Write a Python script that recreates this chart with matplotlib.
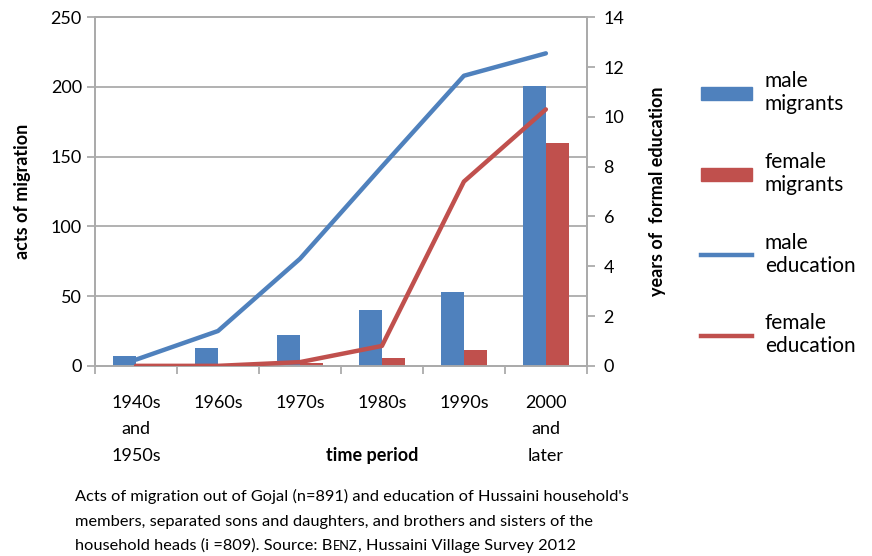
import numpy as np
import matplotlib.pyplot as plt
from matplotlib.patches import Patch
from matplotlib.lines import Line2D

plt.rcParams['font.family'] = ['Lato', 'DejaVu Sans']

periods = ['1940s\nand\n1950s', '1960s', '1970s', '1980s', '1990s', '2000\nand\nlater']
male_migrants = [7, 13, 22, 40, 53, 201]
female_migrants = [0, 0, 2, 5.5, 11.5, 160]
male_edu = [0.25, 1.4, 4.3, 8.0, 11.65, 12.55]
female_edu = [0.0, 0.0, 0.15, 0.8, 7.4, 10.3]

blue = '#4F81BD'
red = '#C0504D'
grey = '#ABABAB'

fig = plt.figure(figsize=(8.72, 5.56), dpi=100)
ax = fig.add_axes([0.109, 0.342, 0.564, 0.627])

x = np.arange(len(periods))
w = 0.28
ax.bar(x - w / 2, male_migrants, w, color=blue, zorder=3)
ax.bar(x + w / 2, female_migrants, w, color=red, zorder=3)

ax.set_xlim(-0.5, len(periods) - 0.5)
ax.set_ylim(0, 250)
ax.set_yticks(range(0, 251, 50))
ax.yaxis.grid(True, color=grey, lw=1.3, zorder=0)
ax.set_xticks(x)
ax.set_xticklabels(periods, fontsize=13, linespacing=1.8, va='top')
ax.set_xticks(np.arange(-0.5, len(periods)), minor=True)
ax.tick_params(axis='x', which='major', length=0, pad=21)
ax.tick_params(axis='x', which='minor', length=6, color=grey, width=1.3)
ax.tick_params(axis='y', labelsize=13, length=6, color=grey, width=1.3)
ax.set_ylabel('acts of migration', fontsize=13, fontweight='bold', labelpad=14)
for s in ax.spines.values():
    s.set_color(grey)
    s.set_linewidth(1.3)

fig.text(372 / 872, 1 - 456 / 556, 'time period', fontsize=13, fontweight='bold',
         ha='center', va='center')

ax2 = ax.twinx()
ax2.plot(x, male_edu, color=blue, lw=3.2, solid_capstyle='round', zorder=4)
ax2.plot(x, female_edu, color=red, lw=3.2, solid_capstyle='round', zorder=4)
ax2.set_ylim(0, 14)
ax2.set_yticks(range(0, 15, 2))
ax2.tick_params(axis='y', labelsize=13, length=6, color=grey, width=1.3, pad=6)
ax2.set_ylabel('years of  formal education', fontsize=13, fontweight='bold', labelpad=18)
for s in ax2.spines.values():
    s.set_color(grey)
    s.set_linewidth(1.3)

handles = [Patch(color=blue), Patch(color=red),
           Line2D([], [], color=blue, lw=3.2), Line2D([], [], color=red, lw=3.2)]
labels = ['male\nmigrants', 'female\nmigrants', 'male\neducation', 'female\neducation']
fig.legend(handles, labels, loc='upper left', bbox_to_anchor=(0.804, 0.872),
           frameon=False, fontsize=15, handlelength=2.45, handleheight=0.6,
           labelspacing=1.8, handletextpad=0.6, borderaxespad=0, borderpad=0)

cap = [
    "Acts of migration out of Gojal (n=891) and education of Hussaini household's",
    "members, separated sons and daughters, and brothers and sisters of the",
]
fig.text(75 / 872, 1 - 496 / 556, cap[0], fontsize=11.8, va='center', ha='left')
fig.text(75 / 872, 1 - 522 / 556, cap[1], fontsize=11.8, va='center', ha='left')

# last line with small caps author name
fig.canvas.draw()
r = fig.canvas.get_renderer()
ypos = 1 - 550 / 556
xpos = 75 / 872
for piece, size in [("household heads (i =809). Source: B", 11.8), ("ENZ", 9.2),
                    (", Hussaini Village Survey 2012", 11.8)]:
    t = fig.text(xpos, ypos, piece, fontsize=size, va='baseline', ha='left')
    bb = t.get_window_extent(r)
    xpos = bb.x1 / fig.bbox.width + 0.5 / 872

fig.savefig('out.png', dpi=100)
